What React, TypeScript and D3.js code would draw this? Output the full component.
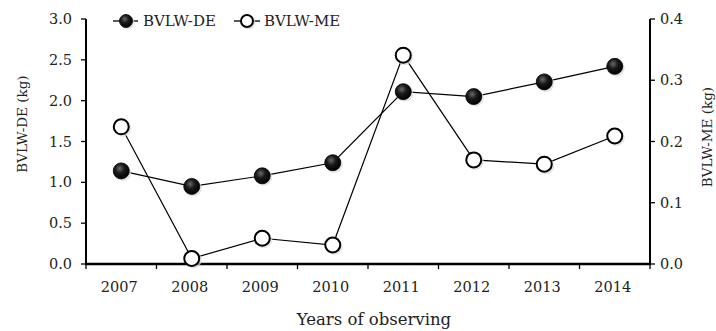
import React from 'react';
import * as d3 from 'd3';

const years = ['2007', '2008', '2009', '2010', '2011', '2012', '2013', '2014'];
const deValues = [1.14, 0.95, 1.08, 1.24, 2.11, 2.05, 2.23, 2.42];
const meValues = [0.224, 0.009, 0.042, 0.031, 0.341, 0.17, 0.163, 0.209];
const leftTicks = [0, 0.5, 1.0, 1.5, 2.0, 2.5, 3.0];
const rightTicks = [0, 0.1, 0.2, 0.3, 0.4];

const W = 716;
const H = 331;
const margin = { top: 19, right: 66, bottom: 67, left: 86 };
const font = '"DejaVu Serif", serif';

const App = () => {
  const x = d3.scaleBand().domain(years).range([margin.left, W - margin.right]);
  const yL = d3.scaleLinear().domain([0, 3]).range([H - margin.bottom, margin.top]);
  const yR = d3.scaleLinear().domain([0, 0.4]).range([H - margin.bottom, margin.top]);
  const cx = (d: string) => (x(d) as number) + x.bandwidth() / 2;

  const deLine = d3.line<number>().x((_, i) => cx(years[i])).y((d) => yL(d));
  const meLine = d3.line<number>().x((_, i) => cx(years[i])).y((d) => yR(d));

  const bottom = H - margin.bottom;
  const left = margin.left;
  const right = W - margin.right;
  const r = 8;

  const filled = (key: string, px: number, py: number, rad: number) => (
    <g key={key}>
      <circle cx={px + 1.5} cy={py + 1.5} r={rad + 0.5} fill="#d8d8d8" opacity={0.7} />
      <circle cx={px} cy={py} r={rad} fill="url(#ball)" stroke="#000" strokeWidth={0.8} />
    </g>
  );
  const open = (key: string, px: number, py: number, rad: number) => (
    <g key={key}>
      <circle cx={px + 1.5} cy={py + 1.5} r={rad + 0.5} fill="#d8d8d8" opacity={0.7} />
      <circle cx={px} cy={py} r={rad - 0.5} fill="#fff" stroke="#000" strokeWidth={2} />
    </g>
  );

  return (
    <svg width={W} height={H} style={{ position: 'absolute', left: 0, top: 0, background: '#fff' }} fontFamily={font}>
      <defs>
        <radialGradient id="ball" cx="0.4" cy="0.35" r="0.65">
          <stop offset="0" stopColor="#6a6a6a" />
          <stop offset="0.45" stopColor="#1a1a1a" />
          <stop offset="1" stopColor="#000" />
        </radialGradient>
      </defs>

      {/* axes */}
      <line x1={left} x2={left} y1={margin.top} y2={bottom} stroke="#000" strokeWidth={2} />
      <line x1={right} x2={right} y1={margin.top} y2={bottom} stroke="#000" strokeWidth={2} />
      <line x1={left - 1} x2={right + 1} y1={bottom} y2={bottom} stroke="#000" strokeWidth={2.5} />

      {leftTicks.map((t) => (
        <g key={'l' + t}>
          <line x1={left - 5} x2={left} y1={yL(t)} y2={yL(t)} stroke="#000" strokeWidth={1.3} />
          <text x={left - 14} y={yL(t)} dy="0.35em" textAnchor="end" fontSize={14.5} fill="#222">
            {t.toFixed(1)}
          </text>
        </g>
      ))}
      {rightTicks.map((t) => (
        <g key={'r' + t}>
          <line x1={right} x2={right + 5} y1={yR(t)} y2={yR(t)} stroke="#000" strokeWidth={1.3} />
          <text x={right + 10} y={yR(t)} dy="0.35em" textAnchor="start" fontSize={14.5} fill="#222">
            {t.toFixed(1)}
          </text>
        </g>
      ))}
      {years.map((yr) => (
        <line key={'t' + yr} x1={x(yr)} x2={x(yr)} y1={bottom} y2={bottom + 5} stroke="#000" strokeWidth={1.3} />
      ))}
      <line x1={right} x2={right} y1={bottom} y2={bottom + 5} stroke="#000" strokeWidth={1.3} />
      {years.map((yr) => (
        <text key={'x' + yr} x={cx(yr) - 2} y={bottom + 23} dy="0.35em" textAnchor="middle" fontSize={14.5} fill="#222">
          {yr}
        </text>
      ))}

      <text x={(left + right) / 2 + 6} y={bottom + 55} dy="0.35em" textAnchor="middle" fontSize={16.5} fill="#222">
        Years of observing
      </text>
      <text transform={`translate(22,124) rotate(-90)`} dy="0.35em" textAnchor="middle" fontSize={13.5} fill="#222">
        BVLW-DE (kg)
      </text>
      <text transform={`translate(707,137) rotate(-90)`} dy="0.35em" textAnchor="middle" fontSize={13.5} fill="#222">
        BVLW-ME (kg)
      </text>

      {/* series */}
      <path d={deLine(deValues) ?? ''} fill="none" stroke="#000" strokeWidth={1.2} />
      <path d={meLine(meValues) ?? ''} fill="none" stroke="#000" strokeWidth={1.2} />
      {deValues.map((v, i) => filled('d' + i, cx(years[i]), yL(v), r))}
      {meValues.map((v, i) => open('m' + i, cx(years[i]), yR(v), r))}

      {/* legend */}
      <line x1={113} x2={138} y1={21} y2={21} stroke="#000" strokeWidth={1.3} />
      {filled('ld', 126, 21, 6.5)}
      <text x={143} y={21} dy="0.35em" fontSize={15} fill="#222">BVLW-DE</text>
      <line x1={234} x2={260} y1={21} y2={21} stroke="#000" strokeWidth={1.3} />
      {open('lm', 247, 21, 6.5)}
      <text x={264} y={21} dy="0.35em" fontSize={15} fill="#222">BVLW-ME</text>
    </svg>
  );
};

export default App;
